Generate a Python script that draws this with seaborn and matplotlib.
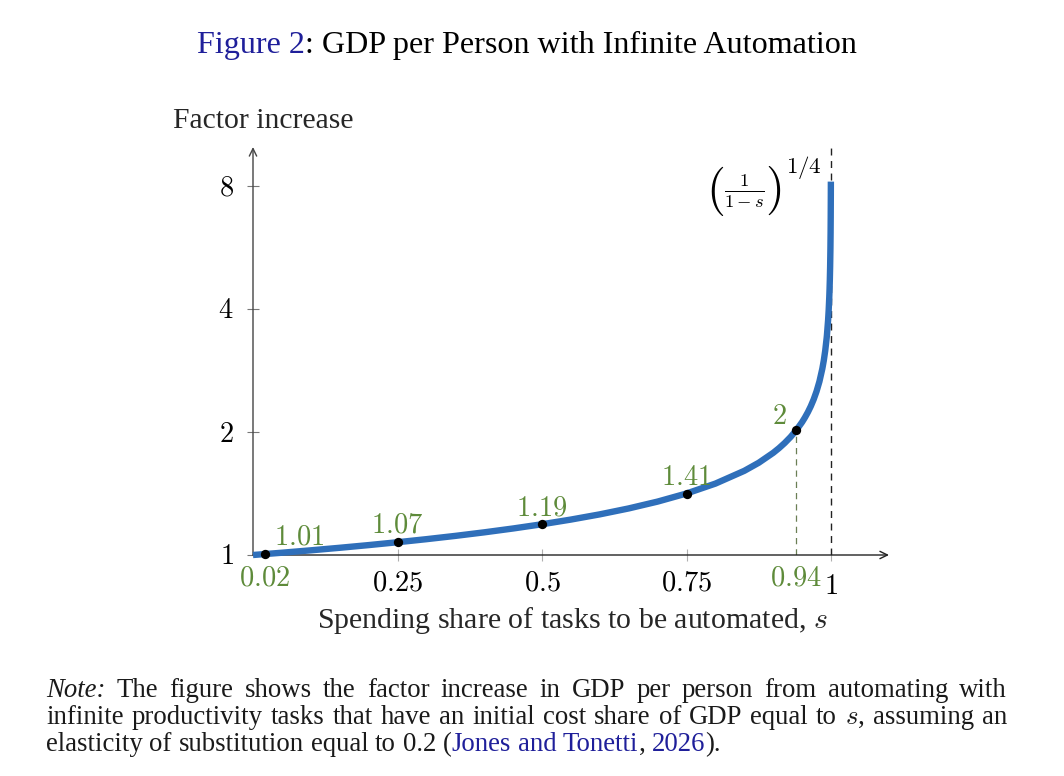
import matplotlib
matplotlib.use("Agg")
import matplotlib.pyplot as plt
import numpy as np
import pandas as pd
import seaborn as sns

# ---------------- data ----------------
curve_s = [0.0, 0.05, 0.1, 0.15, 0.2, 0.25, 0.3, 0.35, 0.4, 0.45, 0.5, 0.55,
           0.6, 0.65, 0.7, 0.75, 0.8, 0.85, 0.875, 0.9, 0.91, 0.92, 0.93,
           0.94, 0.95, 0.955, 0.96, 0.965, 0.97, 0.975, 0.98, 0.985, 0.9875,
           0.99, 0.9925, 0.993, 0.995, 0.996, 0.997, 0.9975, 0.998, 0.9985,
           0.999, 0.9993, 0.9995, 0.9997, 0.99978]
curve_y = [1.0, 1.0129, 1.0267, 1.0415, 1.0574, 1.0746, 1.0933, 1.1137, 1.1362,
           1.1612, 1.1892, 1.2210, 1.2574, 1.3001, 1.3512, 1.4142, 1.4953,
           1.6069, 1.6818, 1.7783, 1.8257, 1.8803, 1.9442, 2.0205, 2.1147,
           2.1713, 2.2361, 2.3120, 2.4028, 2.5149, 2.6591, 2.8574, 2.9907,
           3.1623, 3.3980, 3.4572, 3.7606, 3.9764, 4.2729, 4.4721, 4.7287,
           5.0813, 5.6234, 6.1475, 6.6874, 7.5984, 8.2]

point_s = [0.02, 0.25, 0.5, 0.75, 0.94]
point_y = [1.005, 1.0746, 1.1892, 1.4142, 2.0205]
point_labels = ["1.01", "1.07", "1.19", "1.41", "2"]

xtick_vals = [0.25, 0.5, 0.75, 1.0]
xtick_labels = ["0.25", "0.5", "0.75", "1"]
ytick_vals = [1, 2, 4, 8]
ytick_labels = ["1", "2", "4", "8"]
green_x_vals = [0.02, 0.94]
green_x_labels = ["0.02", "0.94"]

title_fig = "Figure 2"
title_rest = ": GDP per Person with Infinite Automation"
ylabel_text = "Factor increase"
xlabel_text = "Spending share of tasks to be automated, $s$"

note_lines = [
    [("Note:", "k", "italic"), ("The figure shows the factor increase in GDP per person from automating with", "k", "normal")],
    [("infinite productivity tasks that have an initial cost share of GDP equal to", "k", "normal"), ("$s$,", "k", "normal"), ("assuming an", "k", "normal")],
    [("elasticity of substitution equal to 0.2", "k", "normal"), ("(", "k", "normal"), ("Jones and Tonetti", "#1f1f9a", "normal"), (",", "k", "normal"), ("2026", "#1f1f9a", "normal"), (").", "k", "normal")],
]

# ---------------- style ----------------
sns.set_theme(style="white")
plt.rcParams["font.family"] = ["Liberation Serif", "DejaVu Serif"]
plt.rcParams["mathtext.fontset"] = "cm"

BLUE = "#2f6fba"
GREEN = "#5e8b3a"
DARKBLUE = "#1f1f9a"
TICKSIZE = 20.5

W, H = 1064, 776
fig = plt.figure(figsize=(W / 100, H / 100), dpi=100)
fig.patch.set_facecolor("white")

def fx(px):
    return px / W

def fy(py):
    return 1 - py / H

ax = fig.add_axes([fx(253), fy(555), (889 - 253) / W, (555 - 147) / H])
ax.set_yscale("log", base=2)
ax.set_xlim(0, (889 - 253) / 578)
ax.set_ylim(1, 2 ** ((555 - 147) / 123))
ax.set_facecolor("white")
for sp in ax.spines.values():
    sp.set_visible(False)

# axis arrows
ax.annotate("", xy=(1, 0), xytext=(0, 0), xycoords="axes fraction",
            arrowprops=dict(arrowstyle="->,head_length=0.45,head_width=0.22", lw=1.0, color="#222222",
                            shrinkA=0, shrinkB=0))
ax.annotate("", xy=(0, 1), xytext=(0, 0), xycoords="axes fraction",
            arrowprops=dict(arrowstyle="->,head_length=0.45,head_width=0.22", lw=1.0, color="#444444",
                            shrinkA=0, shrinkB=0))

# dashed guide lines
ax.vlines(1.0, 1, ax.get_ylim()[1], colors="#222222", linestyles=(0, (5, 4)), lw=1.0, zorder=2)
ax.vlines(0.94, 1, 2.0205, colors="#6b7f55", linestyles=(0, (5, 4)), lw=0.9, zorder=2)

# curve and points
df_curve = pd.DataFrame({"s": curve_s, "y": curve_y})
sns.lineplot(data=df_curve, x="s", y="y", ax=ax, color=BLUE, lw=4.6, zorder=4,
             sort=False, estimator=None)
for ln in ax.get_lines():
    ln.set_clip_on(False)
    ln.set_solid_capstyle("butt")
    ln.set_solid_joinstyle("round")

df_pts = pd.DataFrame({"s": point_s, "y": point_y})
sns.scatterplot(data=df_pts, x="s", y="y", ax=ax, color="black", s=45,
                edgecolor="black", linewidth=0, zorder=6, clip_on=False)

# point value labels (green); offsets in pixels
label_offsets = [(35, 4), (0, 4), (0, 3), (0, 3), (-17, 0)]
for sx, sy, lab, off in zip(point_s, point_y, point_labels, label_offsets):
    ax.annotate(f"${lab}$", (sx, sy), xytext=(off[0] * 0.72, off[1] * 0.72),
                textcoords="offset points", ha="center", va="bottom",
                color=GREEN, fontsize=TICKSIZE, zorder=7)

# ticks
ax.set_xticks(xtick_vals)
ax.set_xticklabels([f"${t}$" for t in xtick_labels], fontsize=TICKSIZE)
ax.set_yticks(ytick_vals)
ax.set_yticklabels([f"${t}$" for t in ytick_labels], fontsize=TICKSIZE)
ax.minorticks_off()
ax.tick_params(axis="x", direction="inout", length=8.5, width=0.8, color="#b0b0b0", pad=7.5,
               labelcolor="black", bottom=True)
ax.tick_params(axis="y", direction="inout", length=8, width=0.8, color="#777777", pad=10,
               labelcolor="black", left=True)
for lab in ax.get_xticklabels():
    if lab.get_text() == "$1$":
        lab.set_y(-0.01)

# green x labels
for gx, gl in zip(green_x_vals, green_x_labels):
    ax.annotate(f"${gl}$", (gx, 0), xycoords=("data", "axes fraction"),
                xytext=(0, -8), textcoords="offset points", ha="center", va="top",
                color=GREEN, fontsize=TICKSIZE)

ax.set_xlabel("")
ax.set_ylabel("")

# formula: (1/(1-s))^(1/4)
fig.text(fx(715), fy(191), r"$($", ha="center", va="center", fontsize=35, color="black")
fig.text(fx(744), fy(191), r"$\frac{1}{1-s}$", ha="center", va="center", fontsize=19, color="black")
fig.text(fx(773), fy(191), r"$)$", ha="center", va="center", fontsize=35, color="black")
fig.text(fx(786), fy(173), r"$1/4$", ha="left", va="baseline", fontsize=16.5, color="black")

# axis titles
fig.text(fx(263), fy(128), ylabel_text, ha="center", va="baseline", fontsize=21.3)
fig.text(fx(572), fy(628), xlabel_text, ha="center", va="baseline", fontsize=21.5)

# ---------------- title and note ----------------
fig.canvas.draw()
renderer = fig.canvas.get_renderer()

def width_px(t):
    return t.get_window_extent(renderer=renderer).width

def measure(txt, size, style="normal"):
    t = fig.text(0, 0, txt, fontsize=size, style=style)
    w = width_px(t)
    t.remove()
    return w

# title, fitted to the reference width
tsize = 20
full_w = measure(title_fig + title_rest, tsize)
tsize = tsize * 660 / full_w
w1 = measure(title_fig, tsize)
w_all = measure(title_fig + title_rest, tsize)
tx0 = 527 - w_all / 2
fig.text(fx(tx0), fy(53), title_fig, fontsize=tsize, color=DARKBLUE, va="baseline")
fig.text(fx(tx0 + w1), fy(53), title_rest, fontsize=tsize, color="black", va="baseline")

# note: fit size on last (unjustified) line, justify first two lines
left, right = 46, 1007
baselines = [697, 724, 751]

def words_of(line):
    out = []
    for txt, col, sty in line:
        for w in txt.split(" "):
            if w:
                out.append((w, col, sty))
    return out

last_plain = "elasticity of substitution equal to 0.2 (Jones and Tonetti, 2026)."
nsize = 16
nsize = nsize * 676 / measure(last_plain, nsize)
space_w = measure("a b", nsize) - measure("ab", nsize)

for li, line in enumerate(note_lines):
    words = words_of(line)
    widths = [measure(w, nsize, s) for w, c, s in words]
    if li < 2:
        gap = (right - left - sum(widths)) / (len(words) - 1)
    else:
        gap = space_w
    x = left
    for i, ((w, c, s), wd) in enumerate(zip(words, widths)):
        fig.text(fx(x), fy(baselines[li]), w, fontsize=nsize, style=s, color=c, va="baseline")
        x += wd
        if i + 1 < len(words):
            if li == 2 and w in ("(", "Tonetti", "2026"):
                continue
            x += gap

fig.savefig("out.png", dpi=100, facecolor="white")
